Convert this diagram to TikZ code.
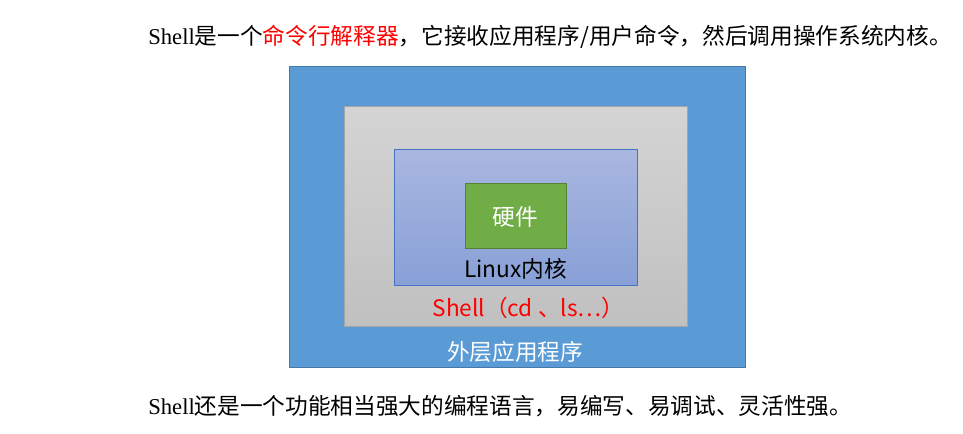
\documentclass[tikz,border=0pt]{standalone}
\usepackage{fontspec}
\setmainfont{Liberation Serif}
\newfontfamily\cjk{Noto Sans CJK SC}
\usepackage{xcolor}
\usetikzlibrary{positioning, calc}
\definecolor{appblue}{RGB}{91, 155, 213}
\definecolor{appblueD}{RGB}{70, 120, 170}
\definecolor{shellgrayT}{RGB}{212, 212, 212}
\definecolor{shellgrayB}{RGB}{192, 192, 192}
\definecolor{shellgrayD}{RGB}{165, 165, 165}
\definecolor{kernblueT}{RGB}{169, 183, 224}
\definecolor{kernblueB}{RGB}{136, 160, 215}
\definecolor{kernblueD}{RGB}{68, 114, 196}
\definecolor{hwgreen}{RGB}{112, 173, 71}
\definecolor{hwgreenD}{RGB}{84, 130, 53}
\definecolor{shellred}{RGB}{255, 0, 0}
\tikzset{
  layer/.style={draw=#1, line width=0.75pt, inner sep=0pt},
  lbl/.style={font=\cjk\fontsize{17}{20}\selectfont, inner sep=0pt},
  note/.style={font=\fontsize{17}{20}\selectfont, anchor=west, inner sep=0pt},
}

\begin{document}
\begin{tikzpicture}[x=0.75pt, y=-0.75pt]
  \useasboundingbox[fill=white] (0,0) rectangle (963,434);
  % Caption above
  \node[note] (top) at (148,37)
    {Shell{\cjk 是一个\textcolor{shellred}{命令行解释器}，它接收应用程序/用户命令，然后调用操作系统内核。}};
  % Nested layers
  \node[layer=appblueD, fill=appblue, minimum width=342pt, minimum height=225pt]
    (app) at (517,217) {};
  \node[layer=shellgrayD, top color=shellgrayT, bottom color=shellgrayB,
        minimum width=257.25pt, minimum height=165pt] (shell) at (515.5,217) {};
  \node[layer=kernblueD, top color=kernblueT, bottom color=kernblueB,
        minimum width=182.25pt, minimum height=102pt] (kern) at (515.5,218) {};
  \node[layer=hwgreenD, fill=hwgreen, minimum width=75.75pt, minimum height=48.75pt]
    (hw) at (515.5,216.5) {};
  % Layer names
  \node[lbl, text=white] (hwlbl) at (hw) {硬件};
  \node[lbl] (kernlbl) at ($(kern.south)+(0,-18)$) {Linux内核};
  \node[lbl, text=shellred] (shelllbl) at ($(shell.south)+(13,-20)$) {Shell（cd 、ls…）};
  \node[lbl, text=white] (applbl) at ($(app.south)+(-2,-16)$) {外层应用程序};
  % Caption below
  \node[note] (bottom) at (148,406)
    {Shell{\cjk 还是一个功能相当强大的编程语言，易编写、易调试、灵活性强。}};
\end{tikzpicture}
\end{document}
